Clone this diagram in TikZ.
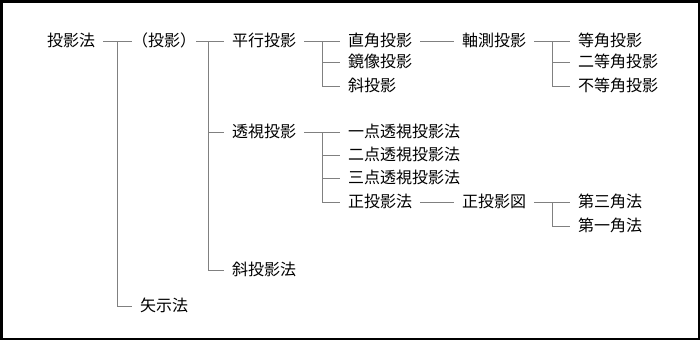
\documentclass[tikz,border=0pt]{standalone}
\usepackage{fontspec}
\setmainfont{Noto Sans CJK JP}
\newfontfamily\haltfont[RawFeature=+halt]{Noto Sans CJK JP}
\usetikzlibrary{calc}
\begin{document}
\begin{tikzpicture}[x=1pt,y=-1pt,
  lbl/.style={anchor=west, inner xsep=8pt, inner ysep=0pt, text height=13pt, text depth=2pt,
    font=\fontsize{16pt}{16pt}\selectfont, text=black},
  conn/.style={draw=gray, line width=1pt}]
\useasboundingbox (0,0) rectangle (700,340);
\draw[line width=2.5pt] (1.25,1.25) rectangle (698.75,338.75);
% nodes (x = text start - 8)
\node[lbl] (a) at (39,41) {投影法};
\node[lbl] (b) at (132,41) {\haltfont （投影）};
\node[lbl] (c) at (224,41) {平行投影};
\node[lbl] (d) at (224,132) {透視投影};
\node[lbl] (e) at (224,270) {斜投影法};
\node[lbl] (f) at (132,306) {矢示法};
\node[lbl] (g) at (340,41) {直角投影};
\node[lbl] (h) at (340,62) {鏡像投影};
\node[lbl] (i) at (340,86) {斜投影};
\node[lbl] (j) at (454,41) {軸測投影};
\node[lbl] (k) at (570,41) {等角投影};
\node[lbl] (l) at (570,62) {二等角投影};
\node[lbl] (m) at (570,86) {不等角投影};
\node[lbl] (n) at (340,132) {一点透視投影法};
\node[lbl] (o) at (340,155) {二点透視投影法};
\node[lbl] (p) at (340,178) {三点透視投影法};
\node[lbl] (q) at (340,202) {正投影法};
\node[lbl] (r) at (454,202) {正投影図};
\node[lbl] (s) at (570,202) {第三角法};
\node[lbl] (t) at (570,226) {第一角法};
% junctions
\coordinate (ja) at (117,41);
\coordinate (jb) at (208,41);
\coordinate (jc) at (322,41);
\coordinate (jd) at (322,132);
\coordinate (jj) at (552,41);
\coordinate (jr) at (552,202);
% connectors
\draw[conn] (a.east) -- (b.west);
\draw[conn] (ja) |- (f.west);
\draw[conn] (b.east) -- (c.west);
\draw[conn] (jb) |- (d.west);
\draw[conn] (jb) |- (e.west);
\draw[conn] (c.east) -- (g.west);
\draw[conn] (jc) |- (h.west);
\draw[conn] (jc) |- (i.west);
\draw[conn] (g.east) -- (j.west);
\draw[conn] (j.east) -- (k.west);
\draw[conn] (jj) |- (l.west);
\draw[conn] (jj) |- (m.west);
\draw[conn] (d.east) -- (n.west);
\draw[conn] (jd) |- (o.west);
\draw[conn] (jd) |- (p.west);
\draw[conn] (jd) |- (q.west);
\draw[conn] (q.east) -- (r.west);
\draw[conn] (r.east) -- (s.west);
\draw[conn] (jr) |- (t.west);
\end{tikzpicture}
\end{document}
